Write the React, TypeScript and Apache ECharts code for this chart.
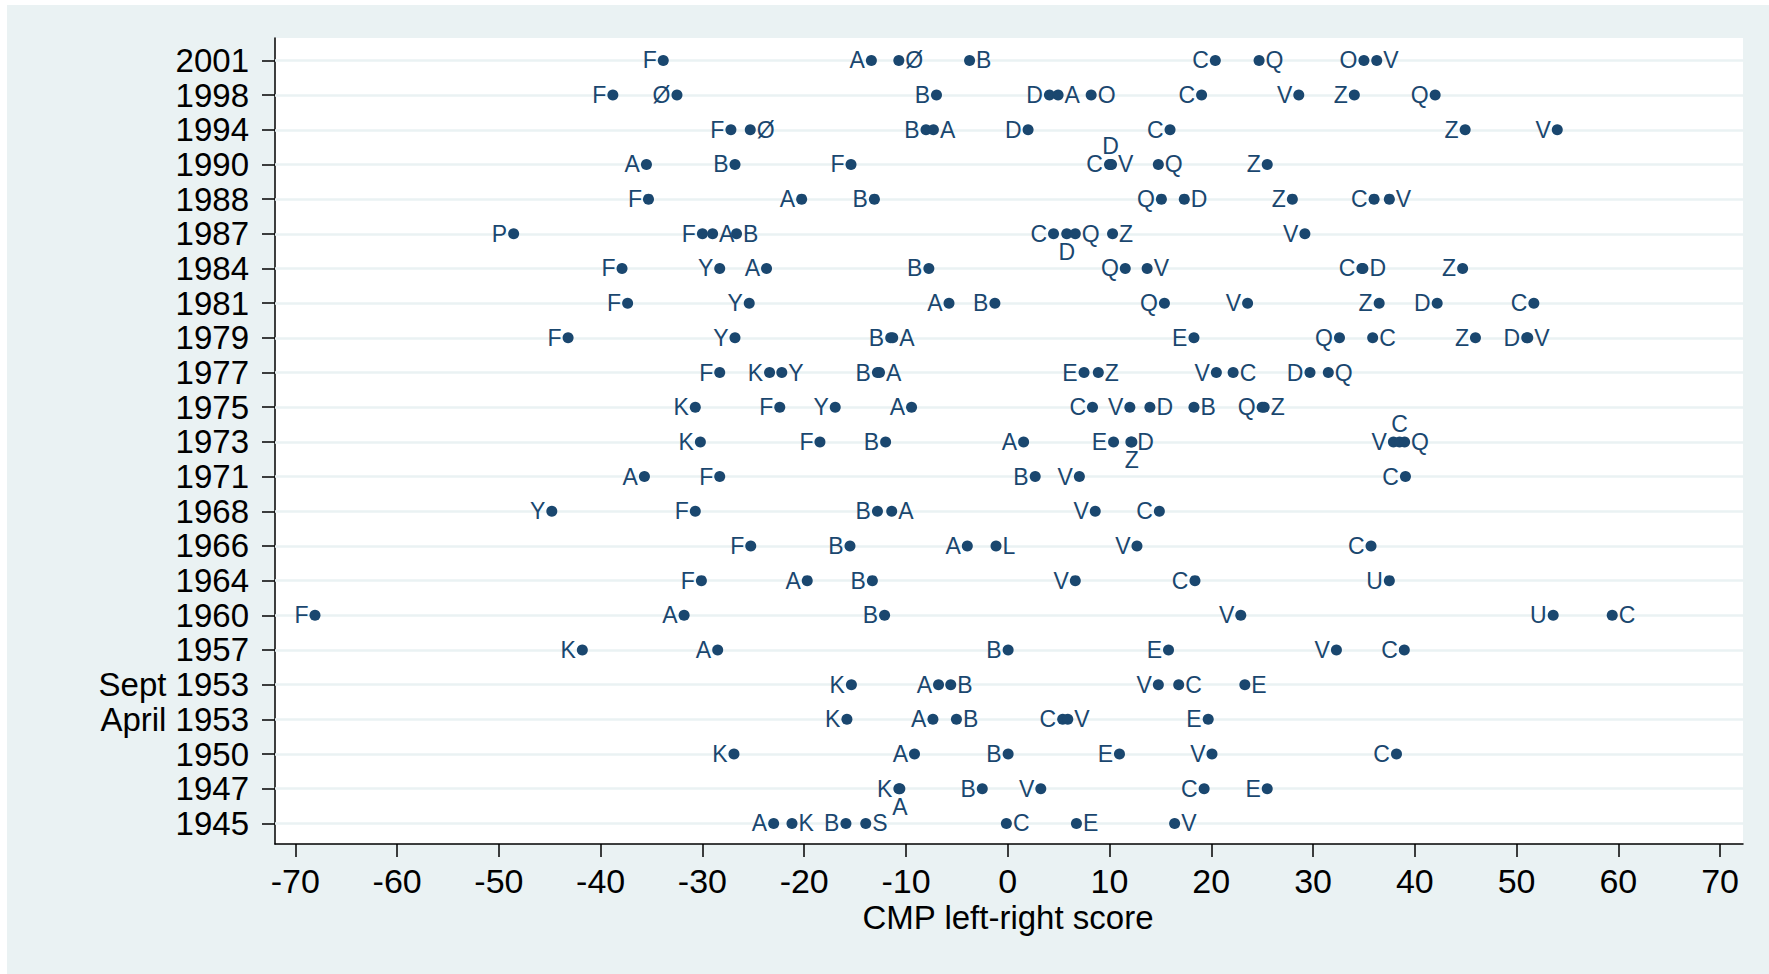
import React, { useEffect, useRef } from "react";
import * as echarts from "echarts";

// Row labels, bottom (index 0) to top
const rowLabels: string[] = [
  "1945", "1947", "1950", "April 1953", "Sept 1953", "1957", "1960", "1964",
  "1966", "1968", "1971", "1973", "1975", "1977", "1979", "1981", "1984",
  "1987", "1988", "1990", "1994", "1998", "2001",
];

// Party codes per election row
const parties: string[][] = [
  ["A", "K", "B", "S", "C", "E", "V"],
  ["K", "A", "B", "V", "C", "E"],
  ["K", "A", "B", "E", "V", "C"],
  ["K", "A", "B", "C", "V", "E"],
  ["K", "A", "B", "V", "C", "E"],
  ["K", "A", "B", "E", "V", "C"],
  ["F", "A", "B", "V", "U", "C"],
  ["F", "A", "B", "V", "C", "U"],
  ["F", "B", "A", "L", "V", "C"],
  ["Y", "F", "B", "A", "V", "C"],
  ["A", "F", "B", "V", "C"],
  ["K", "F", "B", "A", "E", "D", "Z", "V", "C", "Q"],
  ["K", "F", "Y", "A", "C", "V", "D", "B", "Q", "Z"],
  ["F", "K", "Y", "B", "A", "E", "Z", "V", "C", "D", "Q"],
  ["F", "Y", "B", "A", "E", "Q", "C", "Z", "D", "V"],
  ["F", "Y", "A", "B", "Q", "V", "Z", "D", "C"],
  ["F", "Y", "A", "B", "Q", "V", "C", "D", "Z"],
  ["P", "F", "A", "B", "C", "D", "Q", "Z", "V"],
  ["F", "A", "B", "Q", "D", "Z", "C", "V"],
  ["A", "B", "F", "C", "D", "V", "Q", "Z"],
  ["F", "Ø", "B", "A", "D", "C", "Z", "V"],
  ["F", "Ø", "B", "D", "A", "O", "C", "V", "Z", "Q"],
  ["F", "A", "Ø", "B", "C", "Q", "O", "V"],
];

// CMP left-right scores per election row
const scores: number[][] = [
  [-23.0, -21.2, -15.9, -13.95, -0.13, 6.75, 16.4],
  [-10.7, -10.6, -2.5, 3.25, 19.3, 25.5],
  [-26.9, -9.16, 0.04, 10.98, 20.07, 38.2],
  [-15.8, -7.35, -5.04, 5.4, 5.9, 19.7],
  [-15.36, -6.8, -5.6, 14.8, 16.8, 23.3],
  [-41.8, -28.5, 0.04, 15.8, 32.3, 38.97],
  [-68.07, -31.8, -12.1, 22.9, 53.6, 59.4],
  [-30.1, -19.7, -13.3, 6.64, 18.4, 37.5],
  [-25.25, -15.5, -3.97, -1.15, 12.7, 35.7],
  [-44.8, -30.7, -12.8, -11.4, 8.6, 14.9],
  [-35.7, -28.3, 2.7, 7.04, 39.08],
  [-30.2, -18.45, -12.0, 1.56, 10.4, 12.1, 12.2, 37.9, 38.5, 39.0],
  [-30.7, -22.4, -16.95, -9.45, 8.33, 12.0, 13.97, 18.3, 25.0, 25.2],
  [-28.3, -23.4, -22.2, -12.8, -12.6, 7.5, 8.9, 20.5, 22.15, 29.7, 31.5],
  [-43.2, -26.8, -11.5, -11.3, 18.3, 32.6, 35.86, 45.96, 51.0, 51.1],
  [-37.35, -25.4, -5.77, -1.26, 15.4, 23.57, 36.5, 42.2, 51.7],
  [-37.9, -28.3, -23.7, -7.75, 11.55, 13.7, 34.8, 34.9, 44.7],
  [-48.55, -30.0, -29.0, -26.65, 4.5, 5.8, 6.64, 10.3, 29.2],
  [-35.3, -20.25, -13.1, 15.1, 17.35, 27.97, 36.0, 37.5],
  [-35.5, -26.8, -15.4, 10.0, 10.1, 10.2, 14.8, 25.5],
  [-27.2, -25.3, -8.03, -7.3, 2.0, 15.95, 44.95, 54.0],
  [-38.8, -32.5, -7.0, 4.1, 4.95, 8.2, 19.05, 28.6, 34.06, 42.0],
  [-33.85, -13.4, -10.7, -3.75, 20.4, 24.7, 35.0, 36.26],
];

// Marker label clock side per point: L=left, R=right, T=above, B=below
const labelSides: string[] = [
  "LRLRRRR",
  "LBLLLL",
  "LLLLLL",
  "LLRLRL",
  "LLRLRR",
  "LLLLLL",
  "LLLLLR",
  "LLLLLL",
  "LLLRLL",
  "LLLRLL",
  "LLLLL",
  "LLLLLRBLTR",
  "LLLLLLRRLR",
  "LLRLRLRLRLR",
  "LLLRLLRLLR",
  "LLLLLLLLL",
  "LLLLLRLRL",
  "LLRRLBRRL",
  "LLLLRLLR",
  "LLLLTRRL",
  "LRLRLLLL",
  "LLLLRRLLLL",
  "LLRRLRLR",
];

const xTickValues: number[] = [-70, -60, -50, -40, -30, -20, -10, 0, 10, 20, 30, 40, 50, 60, 70];
const xTitle = "CMP left-right score";

const FONT = "'Liberation Sans', Arial, Helvetica, sans-serif";
const NAVY = "#1a476f";
const BG = "#eaf2f3";

export default function App() {
  const ref = useRef<HTMLDivElement>(null);

  useEffect(() => {
    if (!ref.current) return;
    const chart = echarts.init(ref.current, undefined, { renderer: "svg" });

    const sideMap: Record<string, string> = { L: "left", R: "right", T: "top", B: "bottom" };
    const points: any[] = [];
    parties.forEach((ps, row) => {
      ps.forEach((p, j) => {
        points.push({
          name: p,
          value: [scores[row][j], row],
          label: { position: sideMap[labelSides[row][j]] },
        });
      });
    });
    const rowIdx = rowLabels.map((_, i) => i);

    chart.setOption({
      animation: false,
      backgroundColor: BG,
      textStyle: { fontFamily: FONT },
      grid: {
        left: 268,
        top: 33,
        right: 26,
        bottom: 130,
        show: true,
        backgroundColor: "#ffffff",
        borderWidth: 0,
        containLabel: false,
      },
      xAxis: {
        type: "value",
        min: -72,
        max: 72.25,
        axisLine: { show: true, onZero: false, lineStyle: { color: "#000", width: 1.5 } },
        axisTick: {
          show: true,
          customValues: xTickValues,
          length: 13,
          lineStyle: { color: "#000", width: 1.5 },
        },
        axisLabel: {
          customValues: xTickValues,
          fontSize: 34,
          color: "#000",
          fontFamily: FONT,
          margin: 20,
        },
        splitLine: { show: false },
      },
      yAxis: {
        type: "value",
        min: -0.594,
        max: 22.646,
        axisLine: { show: true, onZero: false, lineStyle: { color: "#000", width: 1.5 } },
        axisTick: {
          show: true,
          customValues: rowIdx,
          length: 13,
          lineStyle: { color: "#000", width: 1.5 },
        },
        axisLabel: {
          customValues: rowIdx,
          fontSize: 33,
          color: "#000",
          fontFamily: FONT,
          margin: 26,
          formatter: (v: number) => rowLabels[Math.round(v)] ?? "",
        },
        splitLine: { show: false },
      },
      series: [
        {
          type: "scatter",
          data: [],
          z: 1,
          silent: true,
          markLine: {
            silent: true,
            symbol: ["none", "none"],
            label: { show: false },
            lineStyle: { color: BG, width: 2.5, type: "solid", opacity: 1 },
            data: rowIdx.map((i) => ({ yAxis: i })),
          },
        },
        {
          type: "scatter",
          z: 5,
          symbol: "circle",
          symbolSize: 11,
          itemStyle: { color: NAVY, opacity: 1 },
          label: {
            show: true,
            formatter: (p: any) => p.name,
            color: NAVY,
            fontSize: 23,
            fontFamily: FONT,
            distance: 1,
          },
          data: points,
        },
      ],
      graphic: [
        {
          type: "text",
          x: 1001,
          y: 912,
          style: {
            text: xTitle,
            fill: "#000",
            fontSize: 33,
            fontFamily: FONT,
            textAlign: "center",
            textVerticalAlign: "middle",
          },
        },
      ],
    });

    return () => chart.dispose();
  }, []);

  return (
    <div
      ref={ref}
      style={{ position: "absolute", left: 7, top: 5, width: 1762, height: 969 }}
    />
  );
}
